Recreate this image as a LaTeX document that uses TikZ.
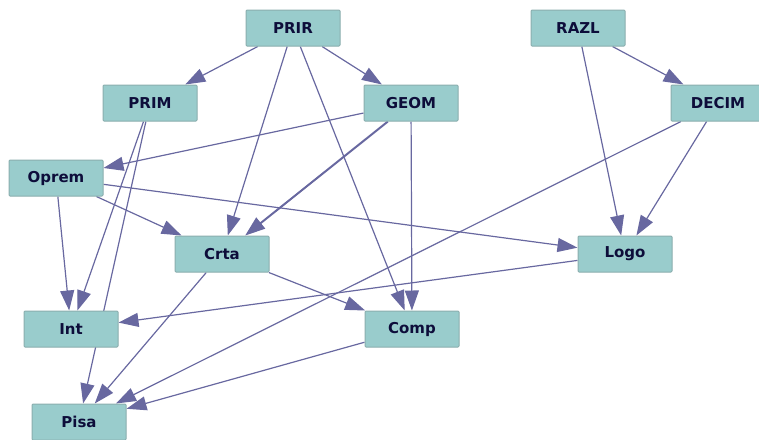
\documentclass[tikz,border=0pt]{standalone}
\usepackage{fontspec}
\setsansfont{DejaVu Sans}
\usepackage{tikz}
\usetikzlibrary{arrows.meta, positioning, backgrounds}
\definecolor{boxfill}{HTML}{99CCCC}
\definecolor{boxline}{HTML}{8AAEAE}
\definecolor{edgecol}{HTML}{6868A0}
\definecolor{labelcol}{HTML}{0D0D3A}
\tikzset{
  topic/.style = {rectangle, rounded corners=1pt, fill=boxfill, draw=boxline,
    line width=1pt, minimum width=94pt, minimum height=36pt, inner sep=0pt,
    font=\sffamily\bfseries\fontsize{15}{17}\selectfont, text=labelcol},
  link/.style = {draw=edgecol, line width=1.2pt,
    -{Triangle[length=20pt, width=14pt]}}
}

\begin{document}
\begin{tikzpicture}[x=1pt, y=-1pt]
\useasboundingbox (0,0) rectangle (759,439);
% top row
\node [topic] (prir)  at (293,28)  {PRIR};
\node [topic] (razl)  at (578,28)  {RAZL};
% second row
\node [topic] (prim)  at (150,103) {PRIM};
\node [topic] (geom)  at (411,103) {GEOM};
\node [topic] (decim) at (718,103) {DECIM};
% middle
\node [topic] (oprem) at (56,178)  {Oprem};
\node [topic] (crta)  at (222,254) {Crta};
\node [topic] (logo)  at (625,254) {Logo};
% bottom
\node [topic] (int)   at (71,329)  {Int};
\node [topic] (comp)  at (412,329) {Comp};
\node [topic] (pisa)  at (79,422)  {Pisa};

% edges behind the boxes (PRIM -> Pisa passes under Int)
\begin{scope}[on background layer]
\draw [link] (prir) -- (prim);
\draw [link] (prir) -- (geom);
\draw [link] (prir) -- (crta);
\draw [link] (prir) -- (comp);
\draw [link] (razl) -- (decim);
\draw [link] (razl) -- (logo);
\draw [link] (decim) -- (logo);
\draw [link] (decim) -- (pisa);
\draw [link] (geom) -- (oprem);
\draw [link, line width=2pt] (geom) -- (crta);
\draw [link] (geom) -- (comp);
\draw [link] (prim) -- (int);
\draw [link] (prim) -- (pisa);
\draw [link] (oprem) -- (int);
\draw [link] (oprem) -- (crta);
\draw [link] (oprem) -- (logo);
\draw [link] (logo) -- (int);
\draw [link] (crta) -- (comp);
\draw [link] (crta) -- (pisa);
\draw [link] (comp) -- (pisa);
\end{scope}
\end{tikzpicture}
\end{document}
